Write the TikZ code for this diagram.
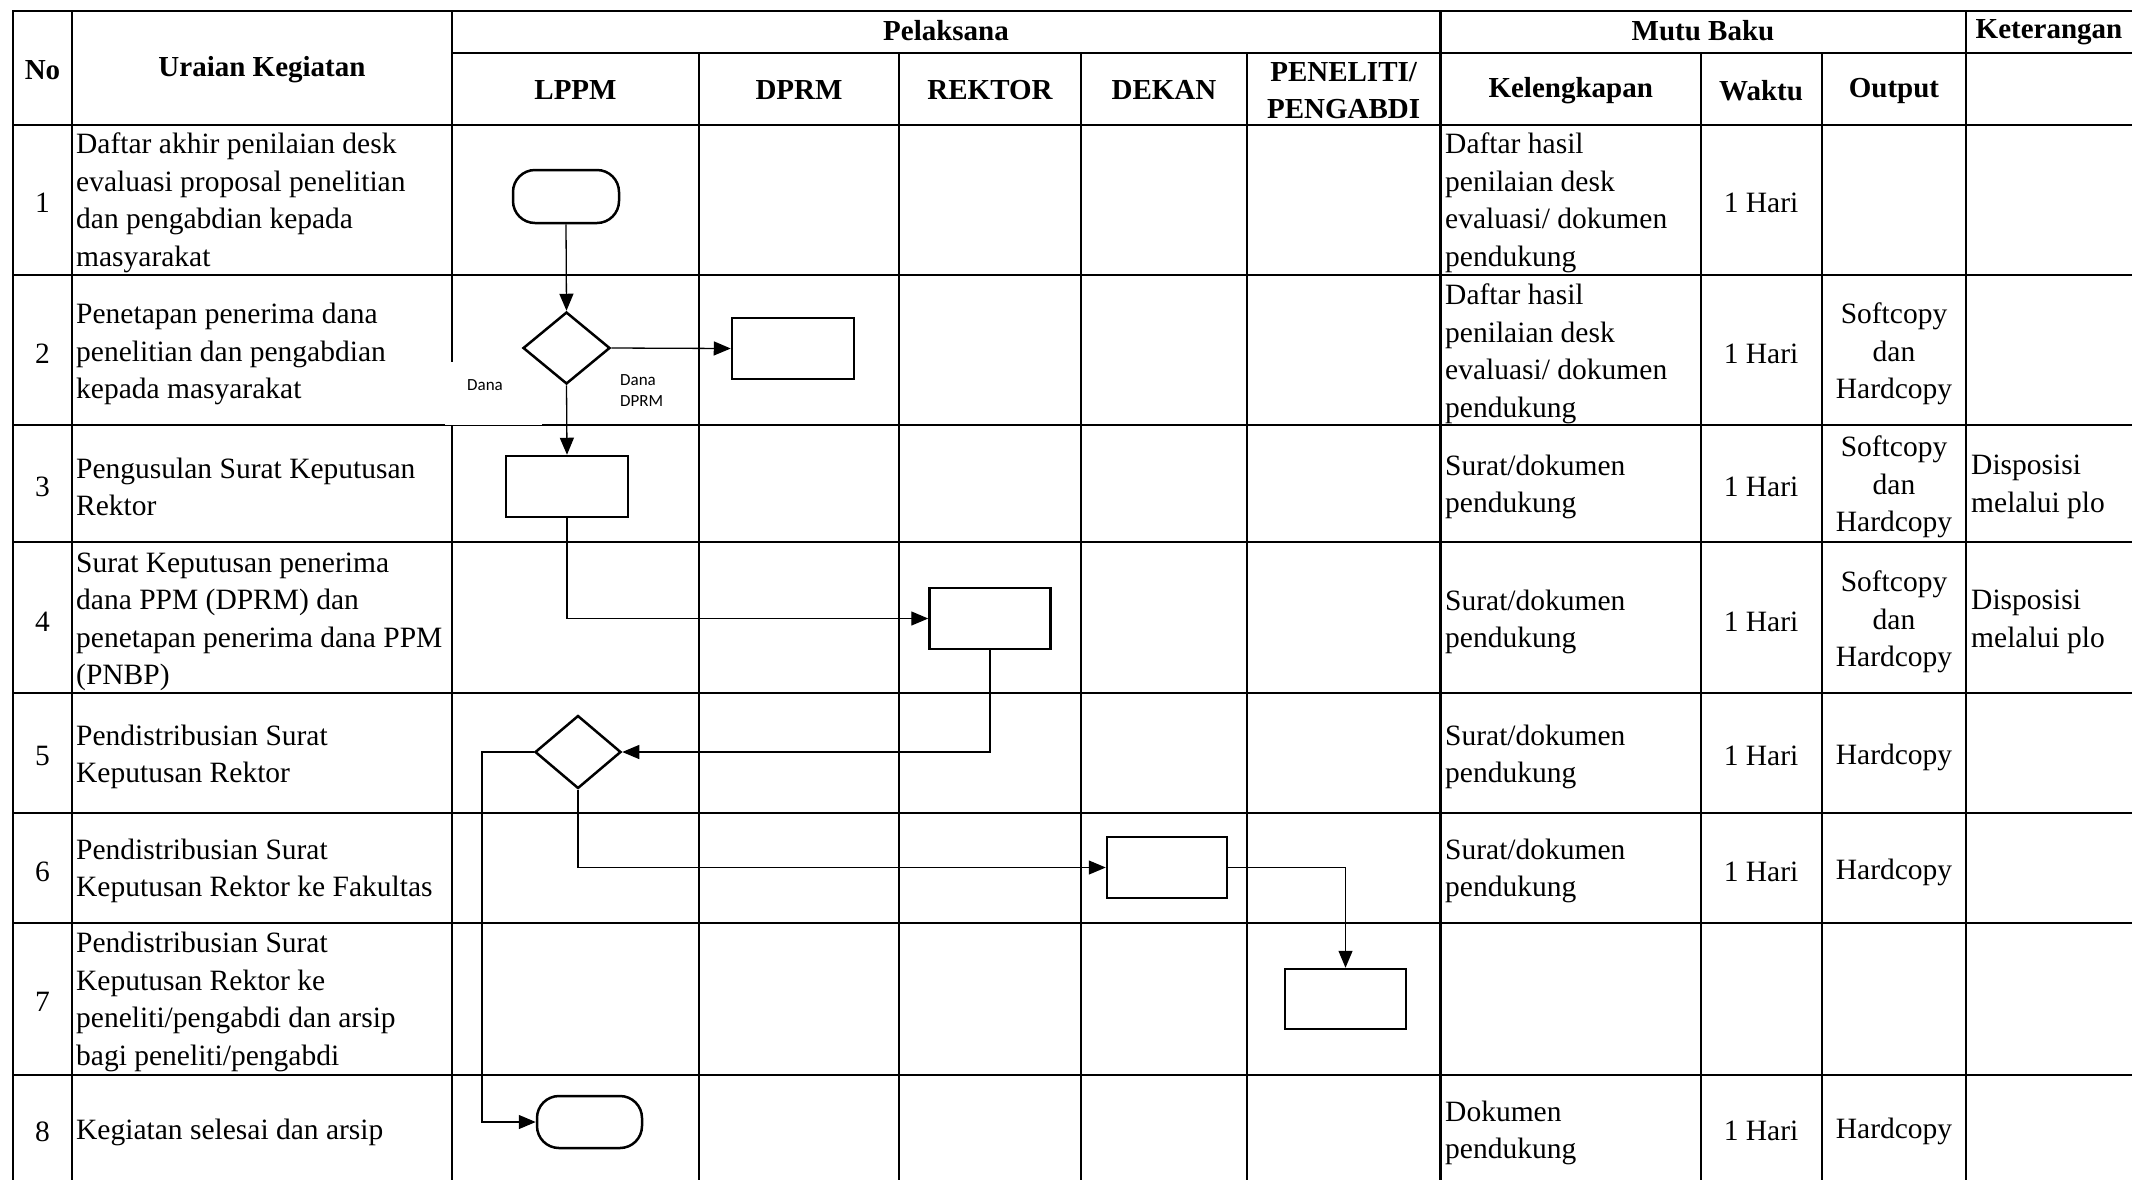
\documentclass[tikz,border=0pt]{standalone}
\usepackage{fontspec}
\setmainfont{Liberation Serif}
\newfontfamily\calfont{Carlito}
\usetikzlibrary{shapes.geometric,arrows.meta}
\tikzset{
  gridline/.style={line width=2.7pt, line cap=rect},
  txt/.style={font=\fontsize{29.5}{37.5}\selectfont, inner sep=0pt, yshift=-3pt},
  lt/.style={txt, align=left, anchor=west},
  ct/.style={txt, align=center},
  hd/.style={inner sep=0pt, font=\fontsize{29}{37}\selectfont\bfseries, align=center},
  proc/.style={draw, line width=2.5pt, inner sep=0pt, minimum width=121pt, minimum height=61pt},
  dec/.style={draw, diamond, line width=2.5pt, inner sep=0pt, minimum width=86pt, minimum height=73pt},
  term/.style={draw, rectangle, rounded corners=22pt, line width=2.5pt, inner sep=0pt, minimum width=106pt, minimum height=53pt},
  conn/.style={line width=1.3pt, -{Triangle[length=17pt,width=14pt]}},
  lbl/.style={inner sep=0pt, font=\calfont\fontsize{17}{21}\selectfont, align=left},
}
\begin{document}
\begin{tikzpicture}[x=1pt,y=-1pt]
\useasboundingbox (0,0) rectangle (2132,1179);
% ---------- grid ----------
\foreach \yy in {11,125,275,425,542,693,813,923,1075}
  \draw[gridline] (13,\yy) -- (2132,\yy);
\draw[gridline] (452,53) -- (2132,53);
\foreach \xx in {13,72,452,1440.6,1966}
  \draw[gridline] (\xx,11) -- (\xx,1180);
\foreach \xx in {699,899,1081,1247,1701,1822}
  \draw[gridline] (\xx,53) -- (\xx,1180);
% ---------- header ----------
\node[hd] (hNo) at (42.5,70) {No};
\node[hd] (hUr) at (262,70) {Uraian Kegiatan};
\node[hd] (hPel) at (946,31) {Pelaksana};
\node[hd] (hMB) at (1703,31) {Mutu Baku};
\node[hd] (hKet) at (2049,32) {Keterangan};
\node[hd] (hL) at (575.5,90) {LPPM};
\node[hd] (hD) at (799,90) {DPRM};
\node[hd] (hR) at (990,90) {REKTOR};
\node[hd] (hDk) at (1164,90) {DEKAN};
\node[hd] (hP) at (1343.6,91) {PENELITI/\\PENGABDI};
\node[hd] (hK) at (1570.7,91) {Kelengkapan};
\node[hd] (hW) at (1761,91) {Waktu};
\node[hd] (hO) at (1894,91) {Output};
% ---------- numbers ----------
\node[ct] (n1) at (42.5,200) {1};
\node[ct] (n2) at (42.5,351) {2};
\node[ct] (n3) at (42.5,484) {3};
\node[ct] (n4) at (42.5,619) {4};
\node[ct] (n5) at (42.5,753) {5};
\node[ct] (n6) at (42.5,869) {6};
\node[ct] (n7) at (42.5,999) {7};
\node[ct] (n8) at (42.5,1129) {8};
% ---------- uraian ----------
\node[lt] (u1) at (76,200) {Daftar akhir penilaian desk\\evaluasi proposal penelitian\\dan pengabdian kepada\\masyarakat};
\node[lt] (u2) at (76,351) {Penetapan penerima dana\\penelitian dan pengabdian\\kepada masyarakat};
\node[lt] (u3) at (76,484) {Pengusulan Surat Keputusan\\Rektor};
\node[lt] (u4) at (76,619) {Surat Keputusan penerima\\dana PPM (DPRM) dan\\penetapan penerima dana PPM\\(PNBP)};
\node[lt] (u5) at (76,754) {Pendistribusian Surat\\Keputusan Rektor};
\node[lt] (u6) at (76,868) {Pendistribusian Surat\\Keputusan Rektor ke Fakultas};
\node[lt] (u7) at (76,999) {Pendistribusian Surat\\Keputusan Rektor ke\\peneliti/pengabdi dan arsip\\bagi peneliti/pengabdi};
\node[lt] (u8) at (76,1129) {Kegiatan selesai dan arsip};
% ---------- kelengkapan ----------
\node[lt] (k1) at (1445,200) {Daftar hasil\\penilaian desk\\evaluasi/ dokumen\\pendukung};
\node[lt] (k2) at (1445,351) {Daftar hasil\\penilaian desk\\evaluasi/ dokumen\\pendukung};
\node[lt] (k3) at (1445,484) {Surat/dokumen\\pendukung};
\node[lt] (k4) at (1445,619) {Surat/dokumen\\pendukung};
\node[lt] (k5) at (1445,754) {Surat/dokumen\\pendukung};
\node[lt] (k6) at (1445,868) {Surat/dokumen\\pendukung};
\node[lt] (k8) at (1445,1130) {Dokumen\\pendukung};
% ---------- waktu ----------
\node[ct] (w1) at (1761,200) {1 Hari};
\node[ct] (w2) at (1761,351) {1 Hari};
\node[ct] (w3) at (1761,484) {1 Hari};
\node[ct] (w4) at (1761,619) {1 Hari};
\node[ct] (w5) at (1761,753) {1 Hari};
\node[ct] (w6) at (1761,869) {1 Hari};
\node[ct] (w8) at (1761,1128) {1 Hari};
% ---------- output ----------
\node[ct] (o2) at (1894,351) {Softcopy\\dan\\Hardcopy};
\node[ct] (o3) at (1894,484) {Softcopy\\dan\\Hardcopy};
\node[ct] (o4) at (1894,619) {Softcopy\\dan\\Hardcopy};
\node[ct] (o5) at (1894,754) {Hardcopy};
\node[ct] (o6) at (1894,869) {Hardcopy};
\node[ct] (o8) at (1894,1128) {Hardcopy};
% ---------- keterangan ----------
\node[lt] (ket3) at (1971,484) {Disposisi\\melalui plo};
\node[lt] (ket4) at (1971,619) {Disposisi\\melalui plo};
% ---------- label boxes ----------
\node[fill=white, inner sep=0pt, minimum width=97pt, minimum height=62.5pt] (danabox) at (493.5,393.25) {};
\node[lbl] (dana1) at (485,385) {Dana};
\node[lbl, anchor=west] (dana2) at (620,390.5) {Dana\\DPRM};
% ---------- flowchart ----------
\node[term] (t1) at (566,196.5) {};
\node[dec, minimum width=87pt, minimum height=72pt] (d2) at (566.5,348) {};
\node[proc, minimum width=122pt] (b2) at (793,348.5) {};
\node[proc, minimum width=122pt] (b3) at (567,486.5) {};
\node[proc] (b4) at (990,618.5) {};
\node[dec] (d5) at (578,752) {};
\node[proc, minimum width=120pt] (b6) at (1167,867.5) {};
\node[proc, minimum height=60pt] (b7) at (1345.5,999) {};
\node[term, minimum width=105pt, minimum height=52pt] (t8) at (589.5,1122) {};
\coordinate (c5) at (482,900);
\draw[conn] (t1.south) -- (d2.north);
\draw[conn] (d2.east) -- (b2.west);
\draw[conn] (d2.south) -- (b3.north);
\draw[conn] (b3.south) |- (b4.west);
\draw[conn] (b4.south) |- (d5.east);
\draw[conn] (d5.west) -| (c5) |- (t8.west);
\draw[conn] (d5.south) |- (b6.west);
\draw[conn] (b6.east) -| (b7.north);
\end{tikzpicture}
\end{document}
